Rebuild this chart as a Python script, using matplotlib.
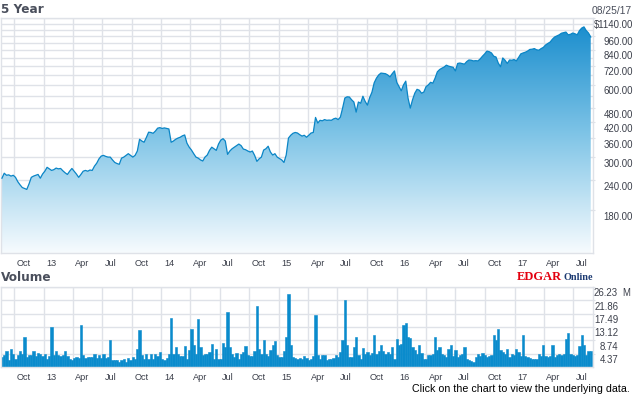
import numpy as np
import pandas as pd
import matplotlib
matplotlib.use("Agg")
import matplotlib.pyplot as plt
from matplotlib.colors import LinearSegmentedColormap
from matplotlib.ticker import NullFormatter
from matplotlib.transforms import ScaledTranslation, TransformedPath

plt.rcParams['font.family'] = ['Liberation Sans', 'DejaVu Sans']

# weekly closes and volumes (millions)
first_week = "2012-08-24"
price = [
    245, 257, 252, 253, 250, 252, 247, 237, 230, 224,
    222, 220, 232, 247, 250, 252, 254, 245, 255, 262,
    272, 268, 264, 266, 270, 268, 269, 263, 258, 254,
    262, 269, 262, 255, 247, 254, 262, 264, 262, 265,
    264, 275, 283, 295, 303, 305, 302, 300, 300, 292,
    285, 282, 280, 297, 300, 305, 310, 305, 300, 305,
    318, 356, 350, 346, 362, 381, 380, 377, 385, 396,
    398, 395, 397, 395, 393, 346, 350, 356, 360, 363,
    368, 371, 343, 330, 321, 310, 300, 297, 292, 289,
    300, 306, 320, 330, 325, 320, 340, 353, 358, 350,
    308, 318, 325, 330, 335, 340, 335, 324, 322, 318,
    315, 318, 305, 288, 295, 300, 321, 325, 333, 315,
    306, 310, 300, 296, 292, 285, 306, 360, 370, 377,
    380, 378, 372, 367, 370, 363, 370, 378, 380, 439,
    416, 427, 425, 430, 427, 428, 427, 433, 436, 430,
    440, 480, 529, 535, 534, 520, 509, 462, 509, 503,
    538, 512, 494, 531, 559, 612, 640, 660, 672, 670,
    668, 660, 648, 668, 686, 615, 590, 567, 600, 622,
    529, 480, 520, 554, 575, 570, 554, 560, 590, 600,
    615, 610, 640, 680, 695, 704, 712, 725, 718, 714,
    710, 686, 737, 740, 736, 732, 750, 762, 760, 755,
    757, 755, 770, 790, 808, 830, 825, 815, 790, 784,
    740, 714, 777, 760, 737, 762, 760, 765, 755, 780,
    808, 815, 821, 830, 843, 845, 850, 840, 837, 850,
    860, 880, 893, 905, 930, 950, 960, 970, 985, 990,
    996, 970, 975, 987, 980, 970, 1010, 1035, 1047, 1010,
    987, 950,
]
volume = [
    3.3, 3.8, 5.1, 2.4, 5.8, 4.4, 2.5, 3.8, 5.1, 4.4,
    9.7, 3.3, 4.0, 3.8, 5.1, 3.5, 4.7, 4.4, 3.6, 4.2,
    2.7, 3.5, 13.0, 3.8, 5.1, 3.8, 3.5, 3.8, 5.1, 3.5,
    2.5, 2.4, 3.0, 3.3, 3.0, 13.9, 4.0, 3.0, 3.3, 3.3,
    3.3, 4.4, 3.0, 3.8, 3.0, 4.4, 3.0, 3.3, 8.7, 2.2,
    2.2, 2.2, 1.6, 2.2, 2.5, 1.6, 2.9, 2.2, 3.3, 2.5,
    5.8, 12.0, 4.0, 2.5, 4.4, 2.5, 4.4, 2.7, 4.4, 3.6,
    5.0, 2.5, 2.2, 3.0, 4.3, 16.1, 4.4, 6.6, 4.4, 3.5,
    3.5, 6.8, 2.7, 5.5, 12.3, 7.1, 4.4, 15.8, 6.6, 3.8,
    4.4, 4.4, 5.0, 7.7, 2.7, 6.0, 2.7, 2.7, 8.0, 6.6,
    18.0, 6.6, 4.4, 3.3, 4.7, 2.5, 4.4, 5.0, 6.8, 3.8,
    3.6, 3.6, 5.1, 19.9, 5.8, 4.4, 8.7, 4.4, 3.6, 5.5,
    7.1, 8.4, 3.8, 3.3, 3.3, 5.1, 10.0, 23.8, 7.1, 3.3,
    3.0, 2.5, 3.0, 2.7, 3.6, 3.0, 2.2, 2.5, 3.6, 16.9,
    3.8, 2.5, 4.0, 3.8, 2.2, 2.7, 2.5, 3.0, 4.0, 3.3,
    4.9, 8.7, 21.9, 7.3, 3.3, 3.3, 6.4, 10.0, 3.8, 2.5,
    6.2, 4.4, 4.9, 4.0, 4.7, 10.4, 4.4, 5.1, 7.1, 5.1,
    4.4, 4.9, 4.4, 6.6, 2.7, 9.1, 7.1, 7.7, 13.7, 14.5,
    9.8, 9.6, 6.6, 5.5, 4.4, 7.1, 4.7, 2.7, 2.5, 4.0,
    3.8, 4.4, 10.0, 5.5, 6.6, 4.4, 3.8, 3.3, 6.0, 7.3,
    3.6, 5.5, 3.3, 3.8, 4.4, 6.6, 2.5, 2.2, 1.9, 1.6,
    3.3, 4.4, 3.6, 4.7, 3.8, 3.3, 3.6, 3.8, 10.6, 8.7,
    12.6, 5.5, 4.9, 4.4, 5.8, 3.3, 4.4, 3.8, 5.8, 4.9,
    3.6, 10.6, 3.6, 3.3, 3.0, 2.5, 2.5, 2.5, 4.4, 3.6,
    7.3, 3.6, 3.3, 3.6, 7.1, 3.3, 3.8, 4.4, 3.8, 4.4,
    9.3, 11.3, 4.4, 3.8, 3.6, 3.8, 6.9, 10.6, 7.1, 3.8,
    5.1, 5.1,
]
price_ticks = [180, 240, 300, 360, 420, 480, 600, 720, 840, 960, 1140]
price_grid = list(range(180, 1141, 60))
vol_ticks = [4.37, 8.74, 13.12, 17.49, 21.86, 26.23]
last_date = "08/25/17"

weeks = pd.date_range(first_week, periods=len(price), freq="7D")
quarters = pd.date_range("2012-10-01", "2017-07-01", freq="QS")
q_labels = [d.strftime("%y") if d.month == 1 else d.strftime("%b") for d in quarters]

grid_c = "#dfe2e8"
text_c = "#3b3f4a"
W, H = 635, 395

fig = plt.figure(figsize=(W / 100, H / 100), dpi=100)
ax = fig.add_axes([1 / W, 1 - 253 / H, 592 / W, 235 / H])
axv = fig.add_axes([1 / W, 1 - 367 / H, 592 / W, 80 / H])

# price panel
ax.set_yscale("log")
ax.plot(weeks, price, color="#0a85c6", lw=0.9, zorder=3)
fill = ax.fill_between(weeks, price, 100, facecolor="none", edgecolor="none")
cmap = LinearSegmentedColormap.from_list("g", ["#f7fbfe", "#80c5e7", "#148acc"])
grad = np.linspace(1, 0, 256).reshape(-1, 1)
im = ax.imshow(grad, cmap=cmap, extent=[0, 1, 0, 1], transform=ax.transAxes,
               aspect="auto", zorder=2, interpolation="bilinear")
im.set_clip_path(TransformedPath(fill.get_paths()[0], ax.transData))

# volume panel
axv.bar(weeks, volume, width=7, color="#0a8bcc", edgecolor="#0a8bcc",
        linewidth=0.4, zorder=2)

xlim = (pd.Timestamp("2012-08-21"), pd.Timestamp("2017-09-01"))
for a in (ax, axv):
    a.set_xlim(*xlim)
    for s in a.spines.values():
        s.set_color(grid_c)
        s.set_linewidth(1)
    a.set_xticks(quarters)
    a.set_xticklabels(q_labels)
    a.yaxis.tick_right()
    a.grid(True, which="both", color=grid_c, lw=1)
    a.set_axisbelow(True)
    a.tick_params(axis="x", length=0, pad=4.3, labelsize=6.6, labelcolor=text_c)
    a.tick_params(axis="y", which="major", length=1.5, color=grid_c,
                  labelsize=6.9, labelcolor=text_c)
    a.tick_params(axis="y", which="minor", length=0)
    for lab in a.get_xticklabels():
        lab.set_horizontalalignment("left")
        lab.set_transform(lab.get_transform() + ScaledTranslation(0.025, 0, fig.dpi_scale_trans))

ax.set_ylim(119.5, 1140)
ax.set_yticks(price_ticks)
ax.set_yticklabels([("$%.2f" if v == 1140 else "%.2f") % v for v in price_ticks])
ax.set_yticks(price_grid, minor=True)
ax.yaxis.set_minor_formatter(NullFormatter())
ax.tick_params(axis="y", which="major", pad=27.4)

axv.set_ylim(0, 26.23)
axv.set_yticks(vol_ticks)
axv.set_yticklabels(["%.2f" % v for v in vol_ticks])
axv.tick_params(axis="y", which="major", pad=16.6)

for a in (ax, axv):
    for lab in a.get_yticklabels():
        lab.set_horizontalalignment("right")
        lab.set_transform(lab.get_transform() + ScaledTranslation(0, -0.055, fig.dpi_scale_trans))

# header texts
fig.text(1 / W, 1 - 9.5 / H, "5 Year", fontsize=8.7, fontweight="bold",
         color="#4a4f5c", family="DejaVu Sans", va="center")
fig.text(1 / W, 1 - 277.5 / H, "Volume", fontsize=8.7, fontweight="bold",
         color="#4a4f5c", family="DejaVu Sans", va="center")
fig.text(632 / W, 1 - 11 / H, last_date, fontsize=7.4, color="#4a4f5c",
         ha="right", va="center")
fig.text(622 / W, 1 - 292.5 / H, "M", fontsize=6.9, color=text_c, va="center")
fig.text(630 / W, 1 - 388.5 / H, "Click on the chart to view the underlying data.",
         fontsize=7.7, color="black", ha="right", va="center")
fig.text(517 / W, 1 - 280.5 / H, "EDGAR", family="Liberation Serif", fontweight="bold",
         fontsize=9, color="#e3000f", va="baseline")
fig.text(563 / W, 1 - 280.5 / H, "Online", family="Liberation Serif", fontweight="bold",
         fontsize=7.3, color="#1c3a72", va="baseline")

fig.savefig("out.png", dpi=100)
